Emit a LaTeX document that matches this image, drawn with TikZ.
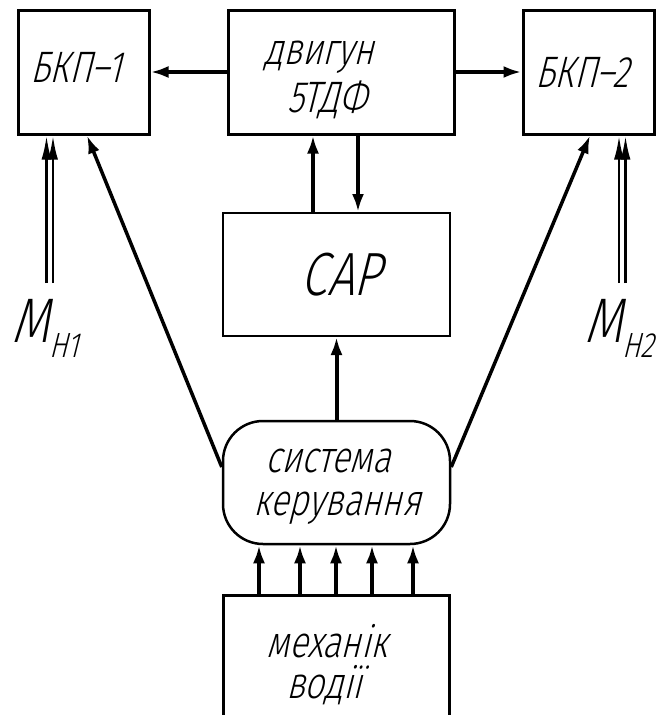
\documentclass[tikz,border=0pt]{standalone}
\usepackage{fontspec}
\setmainfont{Fira Sans Light}[FakeSlant=0.25, FakeStretch=0.78]
\usetikzlibrary{arrows.meta,calc}
\newcommand{\loadlabel}[1]{{\fontsize{63}{63}\selectfont М}{\fontsize{35}{35}\selectfont\raisebox{-15pt}{#1}}}
\begin{document}
\begin{tikzpicture}[x=1pt,y=-1pt,
  box/.style={draw, line width=3pt, inner sep=0pt},
  txt/.style={inner sep=0pt, anchor=base, font=\fontsize{44}{48}\selectfont},
  bigtxt/.style={inner sep=0pt, anchor=base, font=\fontsize{61}{61}\selectfont},
  arr/.style={line width=4pt, -{Latex[length=18pt,width=12pt]}},
  diag/.style={line width=3.5pt, -{Latex[length=18pt,width=12pt]}},
  dbl/.style={line width=2.5pt, -{Latex[length=24pt,width=10pt]}},
  mlabel/.style={inner sep=0pt, anchor=base west}]
\clip (0,0) rectangle (662,715);
% blocks
\node[box, minimum width=131pt, minimum height=124pt] (bkp1) at (83.5,72) {};
\node[box, minimum width=226pt, minimum height=124pt] (eng) at (341,72) {};
\node[box, minimum width=131pt, minimum height=124pt] (bkp2) at (588.5,72) {};
\node[box, line width=2pt, minimum width=227pt, minimum height=123pt] (sar) at (336.5,274.5) {};
\node[box, line width=2.5pt, rounded corners=40pt, minimum width=227pt, minimum height=123pt] (sys) at (336.5,482.5) {};
\node[box, minimum width=226pt, minimum height=140pt] (mech) at (336,665) {};
% texts
\node[txt] (tbkp1) at (76,82) {БКП–1};
\node[txt] (tbkp2) at (582,87) {БКП–2};
\node[txt] (teng1) at (319,64) {двигун};
\node[txt] (teng2) at (327,112) {5ТДФ};
\node[bigtxt] (tsar) at (341,295) {САР};
\node[txt] (tsys1) at (328,472) {система};
\node[txt] (tsys2) at (337,515) {керування};
\node[txt] (tmech1) at (327,657) {механік};
\node[txt] (tmech2) at (324,698) {водії};
% engine to BKP
\draw[arr] (eng.west) -- (bkp1.east);
\draw[arr] (eng.east) -- (bkp2.west);
% engine <-> CAP
\coordinate (xu) at (313,0);
\coordinate (xd) at (358,0);
\draw[arr] (sar.north -| xu) -- (eng.south -| xu);
\draw[arr] (eng.south -| xd) -- (sar.north -| xd);
% system to CAP
\draw[arr] (sys.north) -- (sar.south);
% mechanic to system
\foreach \x [count=\i] in {259,300,336,372,413} {
  \coordinate (c\i) at (\x,0);
  \draw[arr] (mech.north -| c\i) -- (sys.south -| c\i);
}
% diagonals
\coordinate (sl) at ($(sys.west)+(0,-15.5)$);
\coordinate (sr) at ($(sys.east)+(0,-15.5)$);
\draw[diag] (sl) -- ($(bkp1.south)+(3.5,0)$);
\draw[diag] (sr) -- ($(bkp2.south)+(1.5,0)$);
% load torques
\coordinate (m1a) at (46.5,283);
\coordinate (m1b) at (53,283);
\coordinate (m2a) at (619,283);
\coordinate (m2b) at (625.5,283);
\draw[dbl] (m1a) -- (bkp1.south -| m1a);
\draw[dbl] (m1b) -- (bkp1.south -| m1b);
\draw[dbl] (m2a) -- (bkp2.south -| m2a);
\draw[dbl] (m2b) -- (bkp2.south -| m2b);
\node[mlabel] (MH1) at (11.5,342) {\loadlabel{Н1}};
\node[mlabel] (MH2) at (584.5,342) {\loadlabel{Н2}};
\end{tikzpicture}
\end{document}
